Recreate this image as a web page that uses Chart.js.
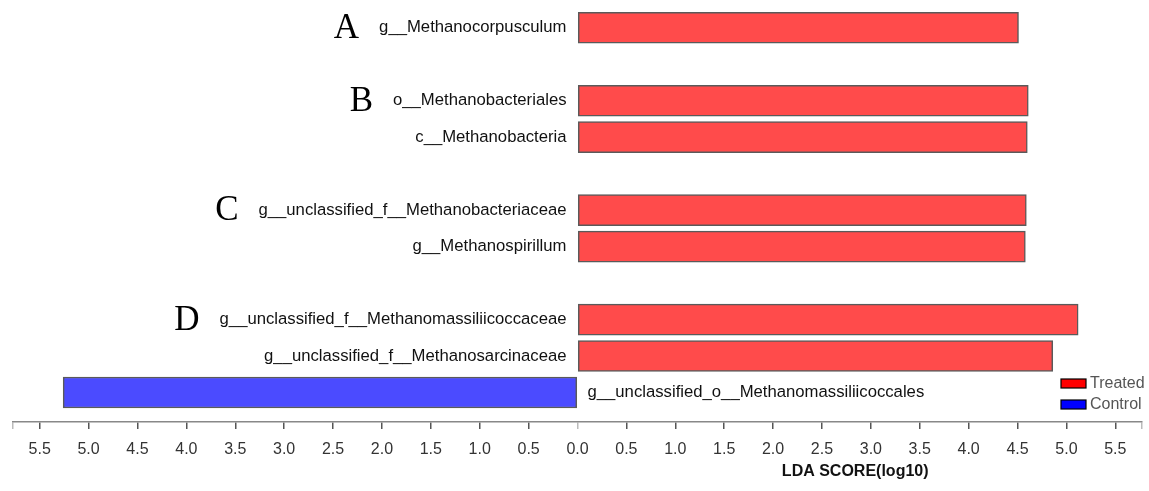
<!DOCTYPE html>
<html>
<head>
<meta charset="utf-8">
<script src="https://cdn.jsdelivr.net/npm/chart.js@4.4.1/dist/chart.umd.min.js"></script>
<style>
  body { margin: 0; background: #fff; }
  #wrap { width: 1149px; height: 491px; }
</style>
</head>
<body>
<div id="wrap"><canvas id="lda-chart" width="1149" height="491"></canvas></div>
<script>
// LEfSe data
const taxa = [
  'g__Methanocorpusculum',
  'o__Methanobacteriales',
  'c__Methanobacteria',
  'g__unclassified_f__Methanobacteriaceae',
  'g__Methanospirillum',
  'g__unclassified_f__Methanomassiliicoccaceae',
  'g__unclassified_f__Methanosarcinaceae',
  'g__unclassified_o__Methanomassiliicoccales'
];
const ldaScores = [4.51, 4.61, 4.60, 4.59, 4.58, 5.12, 4.86, 5.26];
const enrichedIn = ['Treated', 'Treated', 'Treated', 'Treated', 'Treated', 'Treated', 'Treated', 'Control'];
const groupOf = ['A', 'B', 'B', 'C', 'C', 'D', 'D', 'D'];
const classes = ['Treated', 'Control'];
const tickValues = [-5.5, -5, -4.5, -4, -3.5, -3, -2.5, -2, -1.5, -1, -0.5, 0, 0.5, 1, 1.5, 2, 2.5, 3, 3.5, 4, 4.5, 5, 5.5];

const barColors = { Treated: '#FF4B4B', Control: '#4B4BFF' };
const legendColors = { Treated: '#FF0000', Control: '#0000FF' };
const labelFont = '16.7px "Liberation Sans", Arial, sans-serif';

// one empty row between groups
let row = -1, prev = null;
const rows = groupOf.map(g => {
  row += (prev !== null && g !== prev) ? 2 : 1;
  prev = g;
  return row;
});

const points = taxa.map((t, i) => ({
  x: enrichedIn[i] === 'Control' ? -ldaScores[i] : ldaScores[i],
  y: rows[i]
}));

const labelsPlugin = {
  id: 'ldaLabels',
  afterDatasetsDraw(chart) {
    const ctx = chart.ctx;
    const xScale = chart.scales.x;
    const x0 = xScale.getPixelForValue(0);
    const meta = chart.getDatasetMeta(0);
    ctx.save();
    meta.data.forEach((bar, i) => {
      ctx.font = labelFont;
      ctx.fillStyle = '#111';
      ctx.textBaseline = 'middle';
      let left;
      if (points[i].x >= 0) {
        ctx.textAlign = 'right';
        ctx.fillText(taxa[i], x0 - 11, bar.y);
        left = x0 - 11 - ctx.measureText(taxa[i]).width;
      } else {
        ctx.textAlign = 'left';
        ctx.fillText(taxa[i], x0 + 10, bar.y);
        left = null;
      }
      // group letter at first row of each group
      if (left !== null && (i === 0 || groupOf[i] !== groupOf[i - 1])) {
        ctx.font = '35px "Liberation Serif", "Times New Roman", serif';
        ctx.textAlign = 'right';
        ctx.textBaseline = 'alphabetic';
        ctx.fillStyle = '#000';
        ctx.fillText(groupOf[i], left - 20, bar.y + 10);
      }
    });

    // axis title
    ctx.font = 'bold 16px "Liberation Sans", Arial, sans-serif';
    ctx.fillStyle = '#111';
    ctx.textAlign = 'center';
    ctx.textBaseline = 'middle';
    ctx.fillText('LDA SCORE(log10)', xScale.getPixelForValue(2.84), 472);

    // legend
    const area = chart.chartArea;
    classes.forEach((c, k) => {
      const bx = area.right - 81;
      const by = area.bottom - 43 + k * 21;
      ctx.fillStyle = legendColors[c];
      ctx.fillRect(bx, by, 25, 9);
      ctx.strokeStyle = '#000';
      ctx.lineWidth = 1.2;
      ctx.strokeRect(bx, by, 25, 9);
      ctx.font = '16px "Liberation Sans", Arial, sans-serif';
      ctx.fillStyle = '#555';
      ctx.textAlign = 'left';
      ctx.textBaseline = 'middle';
      ctx.fillText(c, bx + 29, by + 5);
    });
    ctx.restore();
  }
};

new Chart(document.getElementById('lda-chart'), {
  type: 'bar',
  data: {
    datasets: [{
      data: points,
      backgroundColor: enrichedIn.map(c => barColors[c]),
      borderColor: '#5a5a5a',
      borderWidth: 1.5,
      borderSkipped: false,
      barThickness: 31
    }]
  },
  options: {
    indexAxis: 'y',
    responsive: false,
    animation: false,
    layout: { padding: { left: 13, right: 7, top: 0, bottom: 0 } },
    plugins: { legend: { display: false }, tooltip: { enabled: false } },
    scales: {
      x: {
        type: 'linear',
        min: -5.773,
        max: 5.773,
        afterBuildTicks: scale => {
          scale.ticks = [scale.min].concat(tickValues, [scale.max]).map(v => ({ value: v }));
        },
        afterFit: scale => {
          scale.height = 69;
          scale.paddingLeft = 0;
          scale.paddingRight = 0;
        },
        border: { display: true, color: '#888', width: 1.5 },
        grid: {
          drawOnChartArea: false,
          drawTicks: true,
          tickLength: 7,
          lineWidth: 1.5,
          color: ctx => (ctx.tick && (ctx.tick.value === 0 || Math.abs(ctx.tick.value) > 5.6)) ? '#bbb' : '#555'
        },
        ticks: {
          autoSkip: false,
          maxRotation: 0,
          padding: 11,
          color: '#333',
          font: { size: 16, family: '"Liberation Sans", Arial, sans-serif' },
          callback: v => Math.abs(v) > 5.6 ? '' : Math.abs(v).toFixed(1)
        }
      },
      y: {
        type: 'linear',
        display: false,
        offset: false,
        reverse: true,
        min: -0.762,
        max: 10.809
      }
    }
  },
  plugins: [labelsPlugin]
});
</script>
</body>
</html>
